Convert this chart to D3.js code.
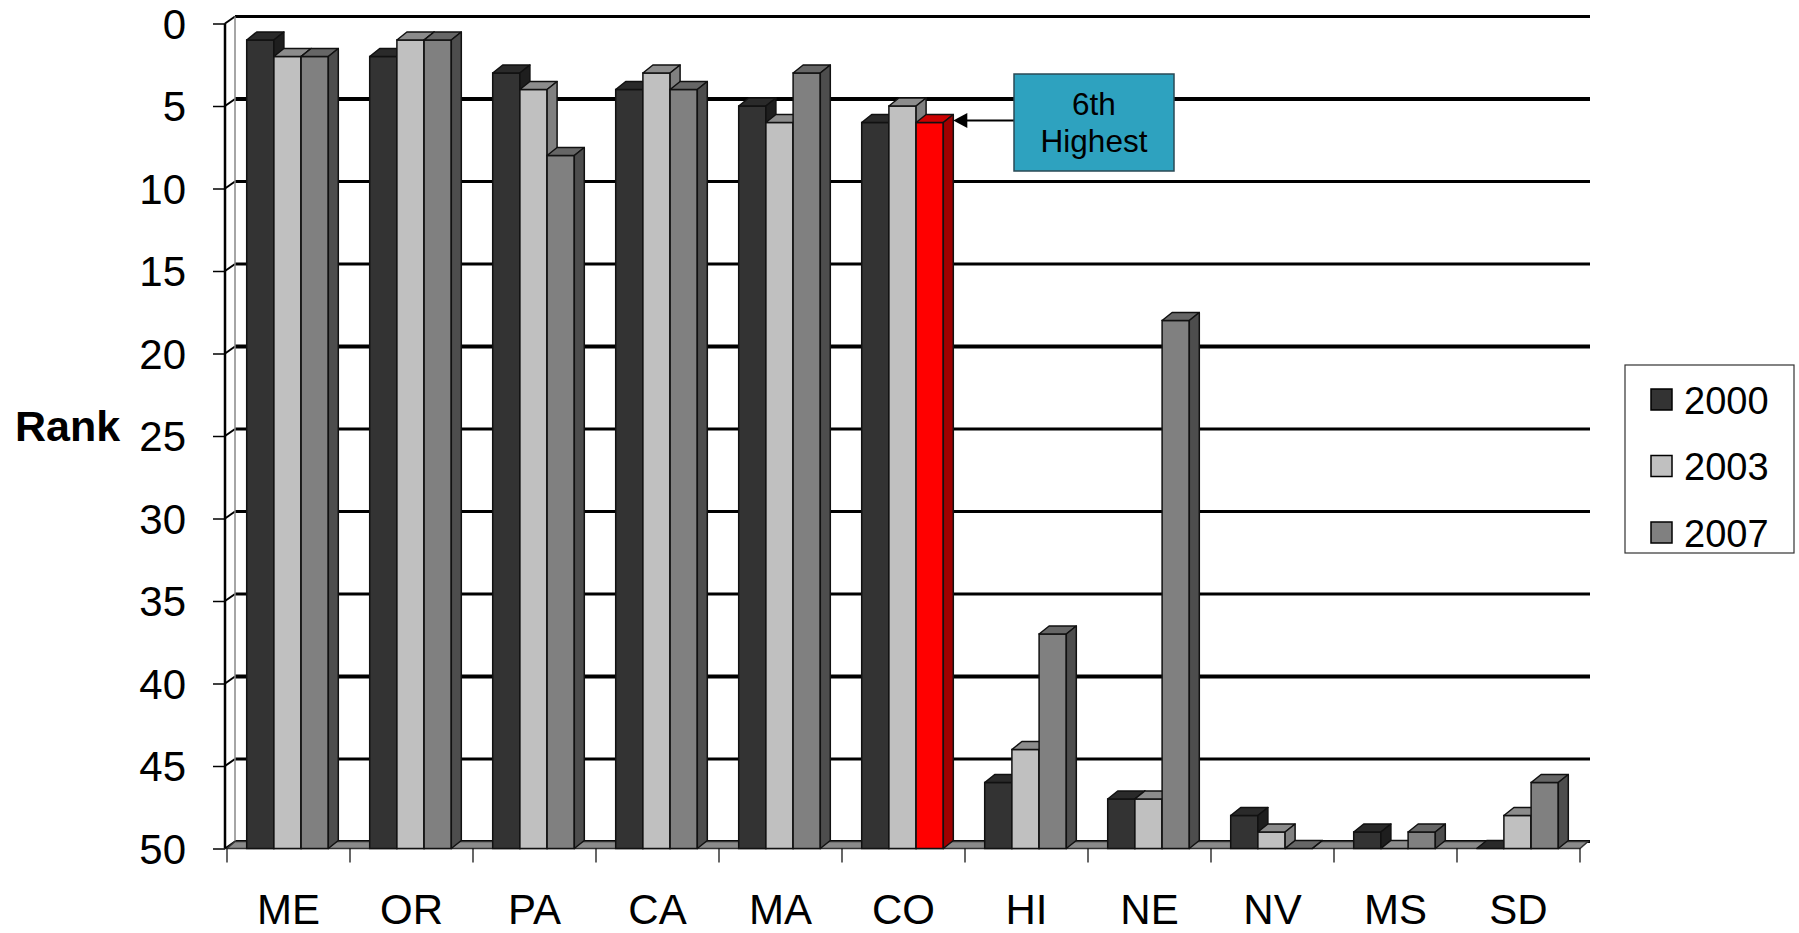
<!DOCTYPE html>
<html>
<head>
<meta charset="utf-8">
<script src="https://cdn.jsdelivr.net/npm/d3@7"></script>
<style>
  html, body { margin: 0; padding: 0; background: #fff; }
  svg { display: block; }
  text { font-family: "Liberation Sans", Arial, sans-serif; }
</style>
</head>
<body>
<svg id="chart" width="1799" height="933"></svg>
<script>
// ---- data ----
const categories = ["ME", "OR", "PA", "CA", "MA", "CO", "HI", "NE", "NV", "MS", "SD"];
const seriesNames = ["2000", "2003", "2007"];
const rank2000 = [1, 2, 3, 4, 5, 6, 46, 47, 48, 49, 50];
const rank2003 = [2, 1, 4, 3, 6, 5, 44, 47, 49, 50, 48];
const rank2007 = [2, 1, 8, 4, 3, 6, 37, 18, 50, 49, 46];
const yTicks = [0, 5, 10, 15, 20, 25, 30, 35, 40, 45, 50];
const highlightCategory = "CO";
const highlightSeries = "2007";
const annotationLines = ["6th", "Highest"];
const yTitle = "Rank";

const seriesValues = { "2000": rank2000, "2003": rank2003, "2007": rank2007 };

// ---- styles ----
const faceColors = {
  "2000": { front: "#333333", top: "#2a2a2a", side: "#1e1e1e" },
  "2003": { front: "#c0c0c0", top: "#8c8c8c", side: "#808080" },
  "2007": { front: "#808080", top: "#666666", side: "#4d4d4d" },
  "hl":   { front: "#ff0000", top: "#cc0000", side: "#a00000" }
};

const svg = d3.select("#chart");

// ---- scales ----
const plotLeft = 227, plotRight = 1580;
const yFront0 = 23.5, yFront50 = 848.5;
const y = d3.scaleLinear().domain([0, 50]).range([yFront0, yFront50]);
const x = d3.scaleBand().domain(categories).range([plotLeft, plotRight]);
const xInner = d3.scaleBand().domain(seriesNames).range([19.7, 19.7 + 81.6]);
const wallDx = 8, wallDy = -7;   // back wall offset
const barDx = 10, barDy = -8;    // bar depth
const floorY = y(50);

// ---- back wall gridlines ----
const grid = svg.append("g");
grid.selectAll("line.grid")
  .data(yTicks)
  .join("line")
  .attr("x1", plotLeft + wallDx)
  .attr("x2", plotRight + 10)
  .attr("y1", d => y(d) + wallDy)
  .attr("y2", d => y(d) + wallDy)
  .attr("stroke", "#000")
  .attr("stroke-width", d => (d === 5 || d === 20 || d === 40) ? 4 : 3);
// slanted connectors on left wall
grid.selectAll("line.slant")
  .data(yTicks)
  .join("line")
  .attr("x1", plotLeft - 2)
  .attr("x2", plotLeft + wallDx)
  .attr("y1", d => y(d))
  .attr("y2", d => y(d) + wallDy)
  .attr("stroke", "#000")
  .attr("stroke-width", 2);
// left wall lines
grid.append("line")
  .attr("x1", plotLeft + wallDx).attr("x2", plotLeft + wallDx)
  .attr("y1", y(0) + wallDy).attr("y2", y(50) + wallDy)
  .attr("stroke", "#888").attr("stroke-width", 1.5);

// ---- floor ----
svg.append("polygon")
  .attr("points", [
    [plotLeft, floorY], [plotLeft + wallDx, floorY + wallDy],
    [plotRight + wallDx, floorY + wallDy], [plotRight, floorY]
  ].map(p => p.join(",")).join(" "))
  .attr("fill", "#8a8a8a")
  .attr("stroke", "#333")
  .attr("stroke-width", 1.5);

// ---- y axis ----
const yAxis = d3.axisLeft(y).tickValues(yTicks).tickSize(12).tickPadding(27);
const yAxisG = svg.append("g")
  .attr("transform", `translate(${plotLeft - 2},0)`)
  .call(yAxis);
yAxisG.select(".domain").attr("stroke", "#000").attr("stroke-width", 2.5).attr("d", `M0,${y(0)}V${y(50)}`);
yAxisG.selectAll(".tick line").attr("stroke", "#000").attr("stroke-width", 1.5);
yAxisG.selectAll(".tick text")
  .attr("font-size", 42)
  .attr("fill", "#000")
  .attr("dy", "0.35em")
  .attr("y", 0);

// ---- x axis ----
const xAxis = d3.axisBottom(x).tickSize(0).tickPadding(0);
const xAxisG = svg.append("g")
  .attr("transform", `translate(0,${floorY})`)
  .call(xAxis);
xAxisG.select(".domain").remove();
xAxisG.selectAll(".tick text")
  .attr("font-size", 42)
  .attr("fill", "#000")
  .attr("y", 75)
  .attr("dy", 0);
// category boundary ticks
const boundaries = categories.map(c => x(c)).concat([plotRight]);
svg.append("g").selectAll("line")
  .data(boundaries)
  .join("line")
  .attr("x1", d => d).attr("x2", d => d)
  .attr("y1", floorY).attr("y2", floorY + 14)
  .attr("stroke", "#000").attr("stroke-width", 1.2);

// ---- bars ----
const bars = [];
categories.forEach((c, i) => {
  seriesNames.forEach(s => {
    bars.push({ cat: c, series: s, value: seriesValues[s][i] });
  });
});
const barW = xInner.bandwidth();
const barsG = svg.append("g");
const barG = barsG.selectAll("g.bar")
  .data(bars)
  .join("g")
  .attr("class", "bar");

function colorsOf(d) {
  return (d.cat === highlightCategory && d.series === highlightSeries) ? faceColors.hl : faceColors[d.series];
}
// front
barG.append("rect")
  .attr("x", d => x(d.cat) + xInner(d.series))
  .attr("y", d => y(d.value))
  .attr("width", barW)
  .attr("height", d => Math.max(0, floorY - y(d.value)))
  .attr("fill", d => colorsOf(d).front)
  .attr("stroke", "#111")
  .attr("stroke-width", 1.5);
// top
barG.append("polygon")
  .attr("points", d => {
    const x0 = x(d.cat) + xInner(d.series), yt = y(d.value);
    return [[x0, yt], [x0 + barDx, yt + barDy], [x0 + barW + barDx, yt + barDy], [x0 + barW, yt]]
      .map(p => p.join(",")).join(" ");
  })
  .attr("fill", d => colorsOf(d).top)
  .attr("stroke", "#111")
  .attr("stroke-width", 1.5)
  .attr("stroke-linejoin", "round");
// side
barG.append("polygon")
  .attr("points", d => {
    const x0 = x(d.cat) + xInner(d.series) + barW, yt = y(d.value);
    return [[x0, yt], [x0 + barDx, yt + barDy], [x0 + barDx, floorY + barDy], [x0, floorY]]
      .map(p => p.join(",")).join(" ");
  })
  .attr("fill", d => colorsOf(d).side)
  .attr("stroke", "#111")
  .attr("stroke-width", 1.5)
  .attr("stroke-linejoin", "round");

// ---- y title ----
svg.append("text")
  .attr("x", 15)
  .attr("y", 441)
  .attr("font-size", 43)
  .attr("font-weight", "bold")
  .text(yTitle);

// ---- annotation ----
const hi = categories.indexOf(highlightCategory);
const hlVal = seriesValues[highlightSeries][hi];
const tipX = x(highlightCategory) + xInner(highlightSeries) + barW + barDx;
const tipY = y(hlVal) - 2;
const boxX = 1014, boxY = 74, boxW = 160, boxH = 97;
const ann = svg.append("g");
ann.append("line")
  .attr("x1", boxX).attr("x2", tipX + 12)
  .attr("y1", tipY).attr("y2", tipY)
  .attr("stroke", "#000").attr("stroke-width", 2);
ann.append("polygon")
  .attr("points", [[tipX, tipY], [tipX + 14, tipY - 7.5], [tipX + 14, tipY + 7.5]].map(p => p.join(",")).join(" "))
  .attr("fill", "#000");
ann.append("rect")
  .attr("x", boxX).attr("y", boxY)
  .attr("width", boxW).attr("height", boxH)
  .attr("fill", "#2ea2bf")
  .attr("stroke", "#2a4a55")
  .attr("stroke-width", 1.5);
ann.selectAll("text")
  .data(annotationLines)
  .join("text")
  .attr("x", boxX + boxW / 2)
  .attr("y", (d, i) => boxY + 41 + i * 37)
  .attr("text-anchor", "middle")
  .attr("font-size", 31.5)
  .attr("fill", "#000")
  .text(d => d);

// ---- legend ----
const lg = svg.append("g");
lg.append("rect")
  .attr("x", 1625).attr("y", 365)
  .attr("width", 169).attr("height", 188)
  .attr("fill", "#fff")
  .attr("stroke", "#333")
  .attr("stroke-width", 1.2);
const lgItem = lg.selectAll("g.item")
  .data(seriesNames)
  .join("g")
  .attr("transform", (d, i) => `translate(1651,${400 + i * 66.5})`);
lgItem.append("rect")
  .attr("x", 0).attr("y", -11)
  .attr("width", 21).attr("height", 21)
  .attr("fill", d => faceColors[d].front)
  .attr("stroke", "#000").attr("stroke-width", 1.5);
lgItem.append("text")
  .attr("x", 33).attr("y", 0)
  .attr("dy", "0.36em")
  .attr("font-size", 38)
  .text(d => d);
</script>
</body>
</html>
